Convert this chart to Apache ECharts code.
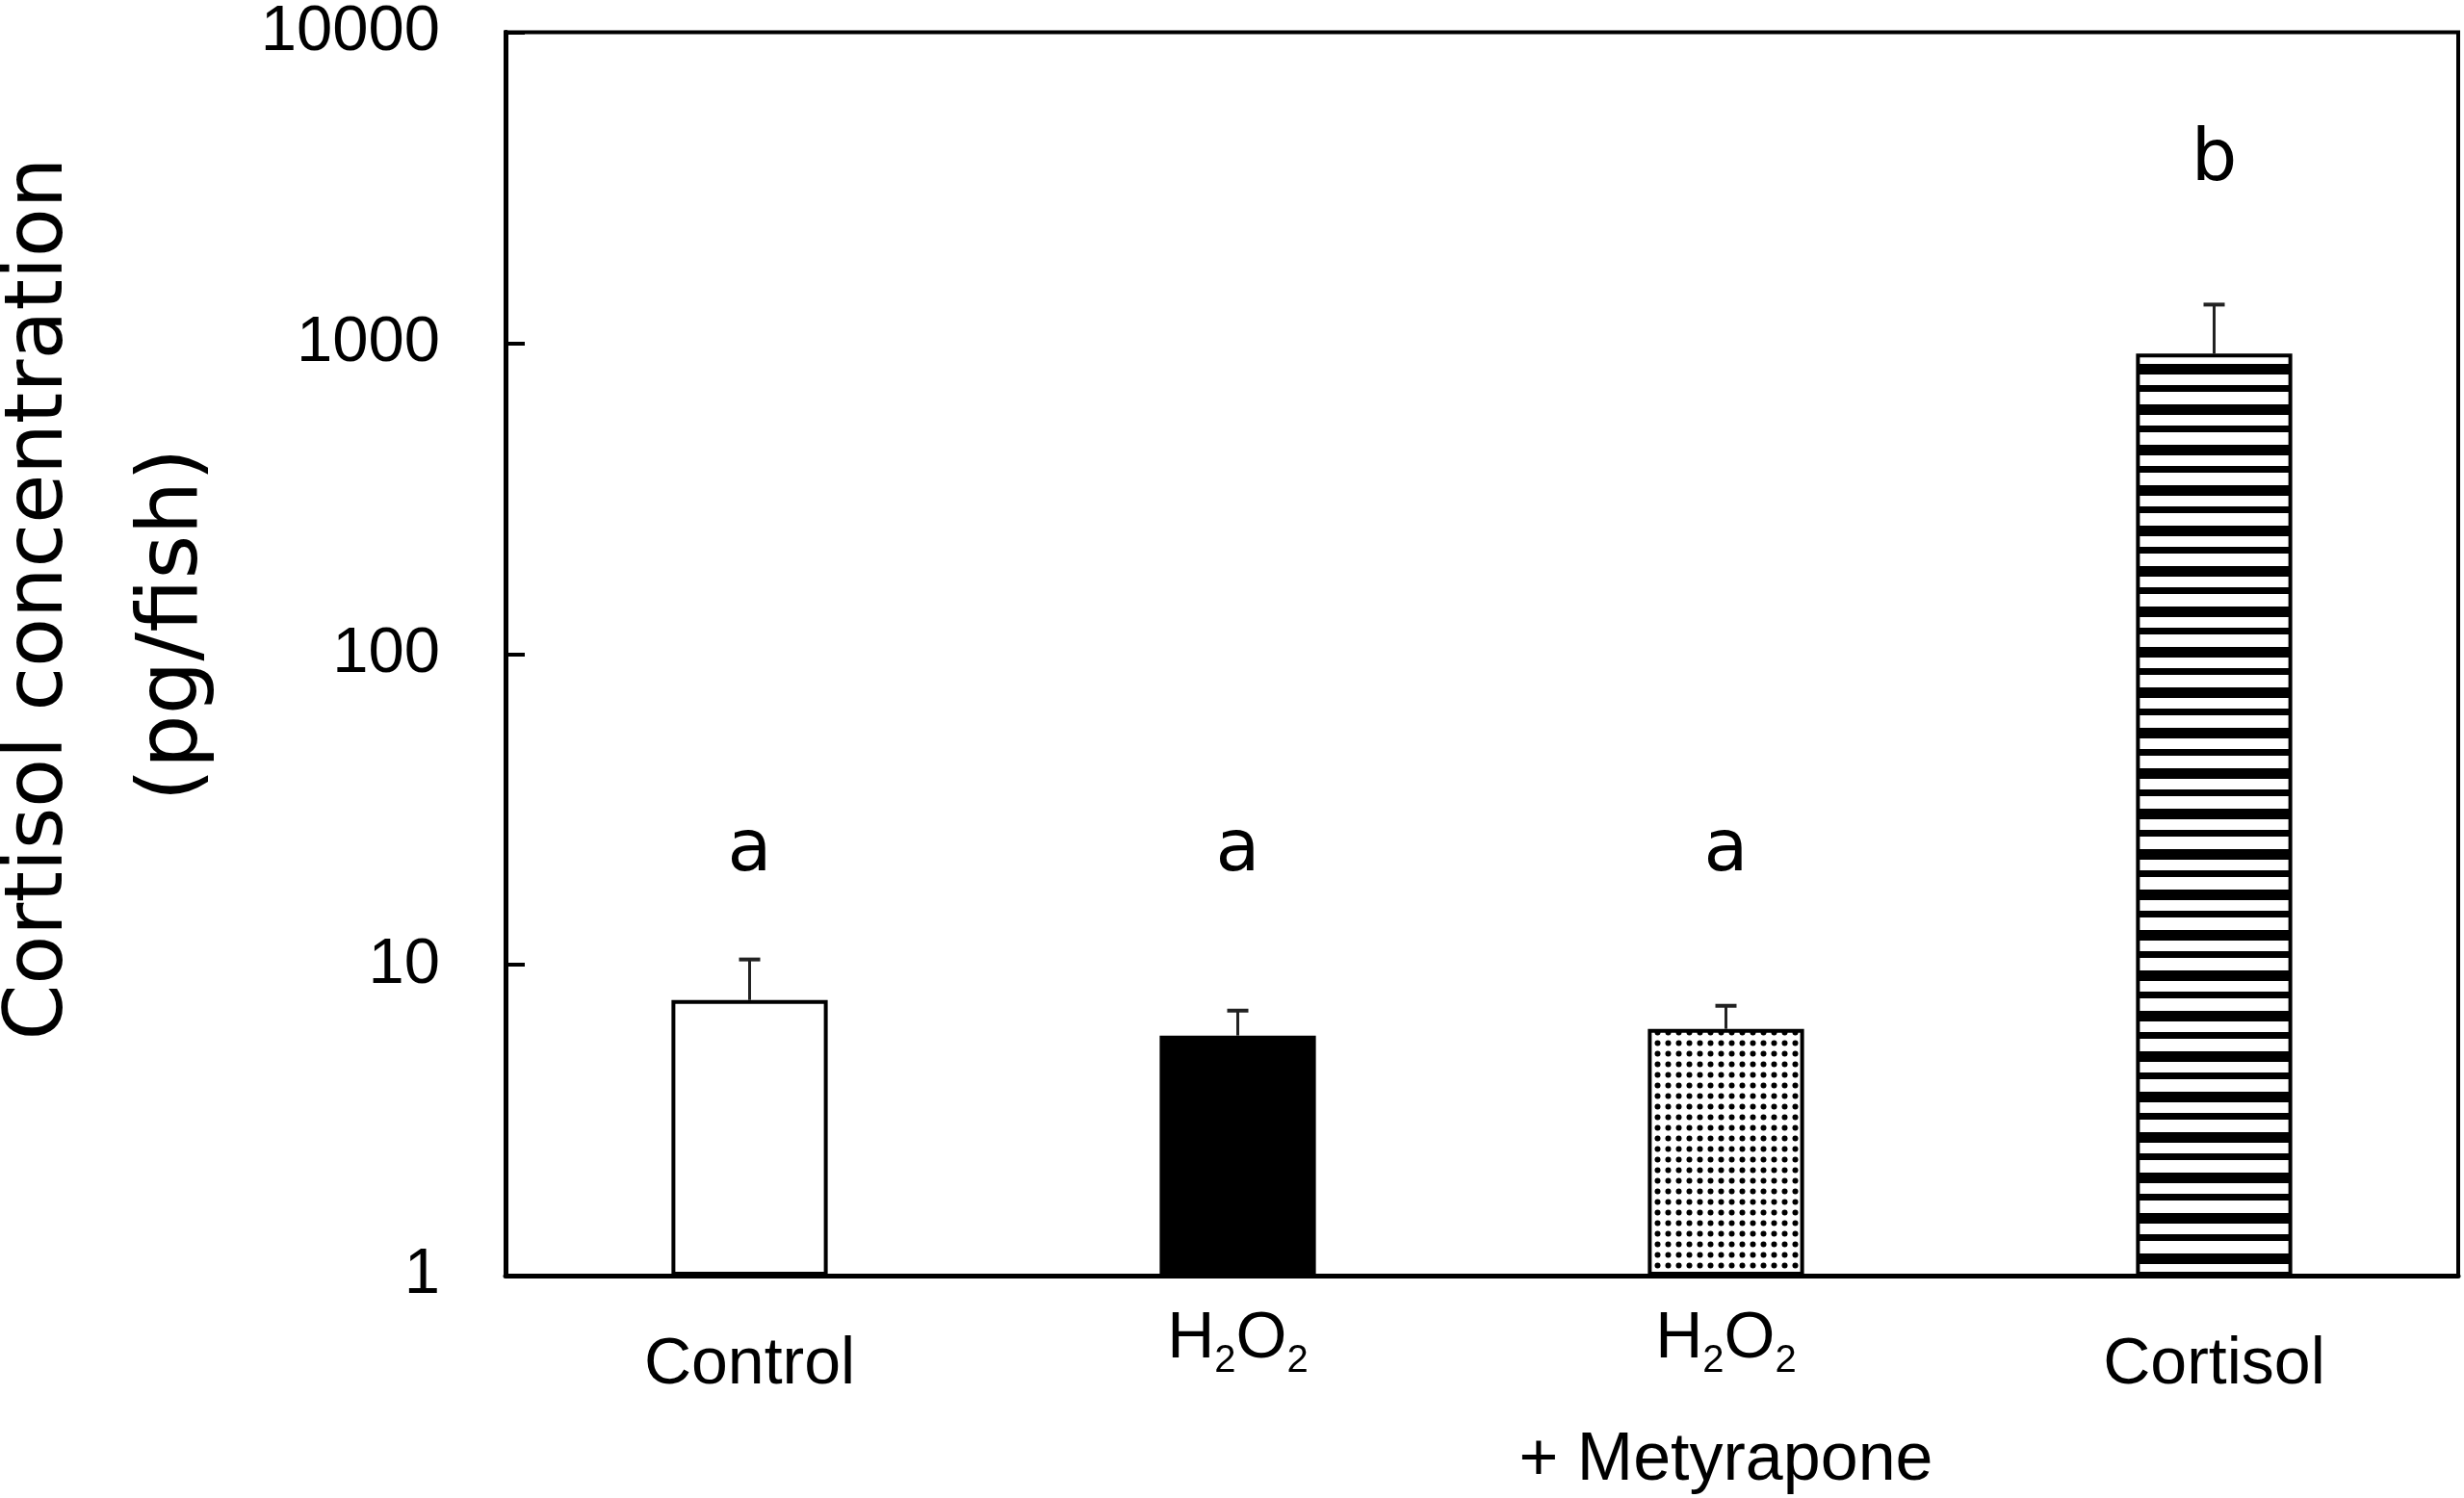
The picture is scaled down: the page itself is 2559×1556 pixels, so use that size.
<!DOCTYPE html>
<html>
<head>
<meta charset="utf-8">
<script src="https://cdn.jsdelivr.net/npm/echarts@6/dist/echarts.min.js"></script>
<style>
  html, body { margin: 0; padding: 0; background: #fff; }
  #chart { width: 2559px; height: 1556px; }
</style>
</head>
<body>
<div id="chart"></div>
<script>
// groups on the x axis (rich text keys: h = normal, s = subscript)
var categories = ['Control', 'H2O2', 'H2O2 + Metyrapone', 'Cortisol'];
var categoryLabels = [
    '{c|Control}',
    '{h|H}{s|2}{h|O}{s|2}',
    '{h|H}{s|2}{h|O}{s|2}\n{p|+ Metyrapone}',
    '{c|Cortisol}'
];
// mean cortisol (pg/fish) and top of the error bar (mean + SE)
var means = [7.7, 5.92, 6.22, 925];
var upper = [10.4, 7.12, 7.38, 1330];
// significance letters and the height they are written at
var letters = ['a', 'a', 'a', 'b'];
var letterAt = [23.2, 23.2, 23.2, 3840];
var yTickLabels = ['1', '10', '100', '1000', '10000'];

function makeDots() {
    var c = document.createElement('canvas');
    c.width = 11; c.height = 11;
    var g = c.getContext('2d');
    g.fillStyle = '#fff';
    g.fillRect(0, 0, 11, 11);
    g.fillStyle = '#000';
    g.beginPath();
    g.arc(5.5, 5.5, 3, 0, Math.PI * 2);
    g.fill();
    return c;
}

function makeStripes() {
    var c = document.createElement('canvas');
    c.width = 8; c.height = 42;
    var g = c.getContext('2d');
    g.fillStyle = '#fff';
    g.fillRect(0, 0, 8, 42);
    g.fillStyle = '#000';
    g.fillRect(0, 0, 8, 11);
    g.fillRect(0, 22, 8, 7);
    return c;
}

var fills = [
    '#ffffff',
    '#000000',
    { image: makeDots(), repeat: 'repeat' },
    { image: makeStripes(), repeat: 'repeat' }
];

var barData = means.map(function (v, i) {
    return {
        value: v,
        itemStyle: { color: fills[i], borderColor: '#000', borderWidth: 4 }
    };
});

var errData = means.map(function (v, i) { return [i, v, upper[i]]; });
var letterData = letters.map(function (t, i) { return [i, letterAt[i]]; });

var myChart = echarts.init(document.getElementById('chart'));

var option = {
    animation: false,
    backgroundColor: '#fff',
    grid: {
        left: 525,
        right: 6,
        top: 28,
        bottom: 231,
        show: true,
        borderColor: '#000',
        borderWidth: 4
    },
    graphic: [
        {
            type: 'text',
            x: 42, y: 622,
            rotation: Math.PI / 2,
            style: {
                text: 'Cortisol concentration',
                font: '83px "DejaVu Sans"',
                fill: '#000',
                align: 'center',
                verticalAlign: 'middle'
            }
        },
        {
            type: 'text',
            x: 181, y: 649,
            rotation: Math.PI / 2,
            style: {
                text: '(pg/fish)',
                font: '88px "DejaVu Sans"',
                fill: '#000',
                align: 'center',
                verticalAlign: 'middle'
            }
        }
    ],
    xAxis: {
        type: 'category',
        data: categories,
        axisLine: { lineStyle: { color: '#000', width: 5 } },
        axisTick: { inside: true, length: 25, lineStyle: { color: '#000', width: 3 } },
        axisLabel: {
            margin: 23,
            interval: 0,
            formatter: function (v, i) { return categoryLabels[i]; },
            rich: {
                c: { fontFamily: 'Liberation Sans', fontSize: 68, color: '#000', lineHeight: 140 },
                h: { fontFamily: 'Liberation Sans', fontSize: 68, color: '#000', lineHeight: 86, verticalAlign: 'middle' },
                s: { fontFamily: 'Liberation Sans', fontSize: 40, color: '#000', verticalAlign: 'bottom' },
                p: { fontFamily: 'Liberation Sans', fontSize: 70, color: '#000', lineHeight: 168 }
            }
        }
    },
    yAxis: {
        type: 'log',
        logBase: 10,
        min: 1,
        max: 10000,
        splitLine: { show: false },
        axisLine: { show: true, lineStyle: { color: '#000', width: 5 } },
        axisTick: { show: true, inside: true, length: 20, lineStyle: { color: '#000', width: 4 } },
        axisLabel: {
            margin: 68,
            fontFamily: 'Liberation Sans',
            fontSize: 67,
            color: '#000',
            formatter: function (v) {
                return yTickLabels[Math.round(Math.log10(v))];
            }
        }
    },
    series: [
        {
            type: 'bar',
            data: barData,
            barWidth: '32%',
            z: 2
        },
        {
            type: 'custom',
            data: errData,
            z: 3,
            renderItem: function (params, api) {
                var i = api.value(0);
                var base = api.coord([i, api.value(1)]);
                var top = api.coord([i, api.value(2)]);
                var half = 11;
                return {
                    type: 'group',
                    children: [
                        {
                            type: 'line',
                            shape: { x1: base[0], y1: base[1], x2: top[0], y2: top[1] },
                            style: { stroke: '#222', lineWidth: 3 }
                        },
                        {
                            type: 'line',
                            shape: { x1: top[0] - half, y1: top[1], x2: top[0] + half, y2: top[1] },
                            style: { stroke: '#222', lineWidth: 4 }
                        }
                    ]
                };
            }
        },
        {
            type: 'custom',
            data: letterData,
            z: 4,
            renderItem: function (params, api) {
                var p = api.coord([api.value(0), api.value(1)]);
                return {
                    type: 'text',
                    x: p[0],
                    y: p[1],
                    style: {
                        text: letters[params.dataIndex],
                        font: '75px "DejaVu Sans"',
                        fill: '#000',
                        align: 'center',
                        verticalAlign: 'middle'
                    }
                };
            }
        }
    ]
};

myChart.setOption(option);
</script>
</body>
</html>
